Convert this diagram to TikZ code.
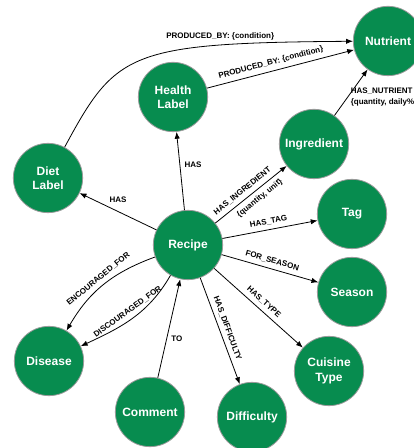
\documentclass[tikz,border=0pt]{standalone}
\usepackage{fontspec}
\setmainfont{Liberation Sans}
\usetikzlibrary{arrows.meta, positioning}
\definecolor{nodegreen}{HTML}{078C4F}
\definecolor{rimgray}{HTML}{9A9A9A}

\begin{document}
\begin{tikzpicture}[
    x=0.75pt, y=0.75pt,
    concept/.style={circle, draw=rimgray, line width=0.6pt, fill=nodegreen, minimum size=52pt, inner sep=0pt, text=white, align=center, font=\fontsize{9}{10.8}\selectfont\bfseries},
    rel/.style={-{Latex[length=1.8mm, width=1.4mm]}, line width=0.6pt},
    lbl/.style={font=\fontsize{6}{8}\selectfont\bfseries, inner sep=3.2pt},
]
    \useasboundingbox (0,0) rectangle (413,448);

    % Concepts
    \node[concept] (nutrient) at (388, 407) {Nutrient};
    \node[concept] (health) at (173, 351) {Health\\Label};
    \node[concept] (ingredient) at (314, 304) {Ingredient};
    \node[concept] (diet) at (48, 270) {Diet\\Label};
    \node[concept] (recipe) at (188, 203) {Recipe};
    \node[concept] (tag) at (352, 234) {Tag};
    \node[concept] (season) at (352, 156) {Season};
    \node[concept] (disease) at (49, 87) {Disease};
    \node[concept] (comment) at (150, 36) {Comment};
    \node[concept] (difficulty) at (252, 31) {Difficulty};
    \node[concept] (cuisine) at (329, 77) {Cuisine\\Type};

    % Relations to Nutrient
    \draw[rel] (diet) .. controls (116,396) and (128,405) .. node[lbl, above, pos=0.75] {PRODUCED\_BY: \{condition\}} (nutrient);
    \draw[rel] (health) -- node[lbl, above, sloped, pos=0.45] {PRODUCED\_BY: \{condition\}} (nutrient);
    \draw[rel] (ingredient) -- node[lbl, right, align=left, pos=0.4, inner sep=2pt] {HAS\_NUTRIENT\\\{quantity, daily\%\}} (nutrient);

    % Relations from Recipe
    \draw[rel] (recipe) -- node[lbl, right, pos=0.58] {HAS} (health);
    \draw[rel] (recipe) -- node[lbl, above=3pt] {HAS} (diet);
    \draw[rel] (recipe) -- node[lbl, above, sloped, pos=0.45] {HAS\_INGREDIENT}
                           node[lbl, below, sloped, pos=0.55] {\{quantity, unit\}} (ingredient);
    \draw[rel] (recipe) -- node[lbl, above, sloped] {HAS\_TAG} (tag);
    \draw[rel] (recipe) -- node[lbl, above, sloped] {FOR\_SEASON} (season);
    \draw[rel] (recipe) -- node[lbl, above, sloped] {HAS\_TYPE} (cuisine);
    \draw[rel] (recipe) -- node[lbl, above, sloped] {HAS\_DIFFICULTY} (difficulty);
    \draw[rel] (recipe) to[out=200, in=60] node[lbl, above, sloped] {ENCOURAGED\_FOR} (disease);
    \draw[rel] (recipe) to[out=240, in=25] node[lbl, above, sloped] {DISCOURAGED\_FOR} (disease);
    \draw[rel] (comment) -- node[lbl, right, pos=0.4] {TO} (recipe);

\end{tikzpicture}
\end{document}
